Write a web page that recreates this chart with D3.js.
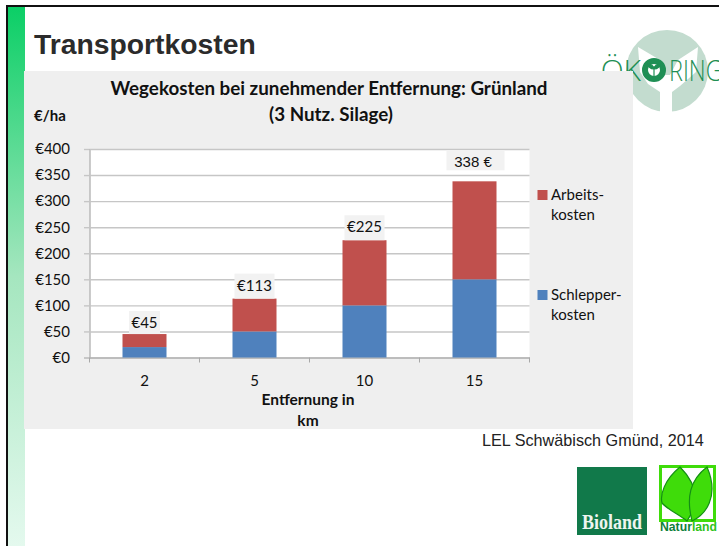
<!DOCTYPE html>
<html>
<head>
<meta charset="utf-8">
<script src="https://cdn.jsdelivr.net/npm/d3@7"></script>
<style>
body { margin: 0; background: #fff; }
svg { display: block; }
text { font-family: Lato, sans-serif; fill: #111; }
.sans { font-family: "Liberation Sans", Arial, sans-serif; }
</style>
</head>
<body>
<script>
var categories = ["2", "5", "10", "15"];
var schlepper = [20, 50, 100, 150];
var arbeit = [25, 63, 125, 188];
var totalLabels = ["€45", "€113", "€225", "338 €"];
var yTicks = [0, 50, 100, 150, 200, 250, 300, 350, 400];

var width = 719, height = 546;
var svg = d3.select("body").append("svg").attr("width", width).attr("height", height);

// slide frame and green side strip
var grad = svg.append("defs").append("linearGradient")
	.attr("id", "strip").attr("x1", 0).attr("y1", 0).attr("x2", 0).attr("y2", 1);
grad.append("stop").attr("offset", "0").attr("stop-color", "#0bcf66");
grad.append("stop").attr("offset", "0.5").attr("stop-color", "#a5e6bf");
grad.append("stop").attr("offset", "1").attr("stop-color", "#e4f9ee");

svg.append("rect").attr("x", 6).attr("y", 5).attr("width", 713).attr("height", 2).attr("fill", "#111");
svg.append("rect").attr("x", 6).attr("y", 5).attr("width", 2).attr("height", 541).attr("fill", "#111");
svg.append("rect").attr("x", 8).attr("y", 7).attr("width", 17).attr("height", 539).attr("fill", "url(#strip)");

svg.append("text").attr("class", "sans").attr("x", 34).attr("y", 54)
	.style("font-size", "28.3px").style("font-weight", "bold").style("fill", "#2b2b2b")
	.text("Transportkosten");

// okoring logo, sits behind the chart panel and runs off the slide like the original
var logo = svg.append("g");
var logoGreen = "#1f8f55";
logo.append("circle").attr("cx", 667).attr("cy", 71).attr("r", 41).attr("fill", "#c3dccf");
logo.append("path").attr("d", "M638 47 L660 60 L665 75 L670 75 L678 60 L698 47 L696 72 L680 86 L672 92 L672 113 L660 113 L660 92 L648 84 L640 72 Z")
	.attr("fill", "#fff");
logo.append("text").attr("x", 641).attr("y", 81).attr("text-anchor", "end")
	.style("font-family", "'Open Sans', sans-serif").style("font-weight", 300).style("font-size", "30px")
	.style("fill", logoGreen).text("ÖK");
logo.append("circle").attr("cx", 654).attr("cy", 70).attr("r", 9).attr("fill", "none")
	.attr("stroke", logoGreen).attr("stroke-width", 6);
logo.append("path").attr("d", "M654 76 L654 69 M654 69 C650 69 648 66 648 64 C651 64 654 66 654 69 C654 66 657 64 660 64 C660 66 658 69 654 69")
	.attr("fill", logoGreen).attr("stroke", logoGreen).attr("stroke-width", 1.2);
logo.append("text").attr("transform", "translate(669,81) scale(0.78,1)")
	.style("font-family", "'Open Sans', sans-serif").style("font-weight", 300).style("font-size", "30px")
	.style("fill", logoGreen).text("RING");

// chart panel
svg.append("rect").attr("x", 24).attr("y", 71).attr("width", 609).attr("height", 358).attr("fill", "#efefef");

var margin = {top: 149, left: 89.5};
var plotW = 440, plotH = 208.5;

var x = d3.scaleBand().domain(categories).range([0, plotW]).paddingInner(0.6).paddingOuter(0.3);
var band = d3.scaleBand().domain(categories).range([0, plotW]);
var y = d3.scaleLinear().domain([0, 400]).range([plotH, 0]);

var g = svg.append("g").attr("transform", "translate(" + margin.left + "," + margin.top + ")");
g.append("rect").attr("width", plotW).attr("height", plotH).attr("fill", "#fff");

var yAxis = d3.axisLeft(y).tickValues(yTicks).tickSize(5.5).tickPadding(14)
	.tickFormat(function(d) { return "€" + d; });
var gy = g.append("g").call(yAxis);
gy.selectAll(".tick line").clone().attr("x1", 0).attr("x2", plotW);
gy.selectAll("line").attr("stroke", "#c6c6c6").attr("stroke-width", 1.4);
gy.select(".domain").attr("stroke", "#a8a8a8").attr("stroke-width", 1.2);
gy.selectAll("text").style("font-size", "15px").style("font-family", "Lato, sans-serif").attr("fill", "#111");

var xAxis = d3.axisBottom(band).tickSize(0).tickPadding(18);
var gx = g.append("g").attr("transform", "translate(0," + plotH + ")").call(xAxis);
gx.select(".domain").attr("stroke", "#a8a8a8").attr("stroke-width", 1.2);
gx.selectAll("text").style("font-size", "15px").style("font-family", "Lato, sans-serif").attr("fill", "#111");
gx.selectAll(".sep").data(d3.range(categories.length + 1)).enter().append("line")
	.attr("class", "sep")
	.attr("x1", function(i) { return i * band.step(); })
	.attr("x2", function(i) { return i * band.step(); })
	.attr("y1", 0).attr("y2", 5).attr("stroke", "#a8a8a8");

var bw = x.bandwidth();
var offset = band.bandwidth() / 2 - bw / 2;

g.selectAll(".schlepper").data(schlepper).enter().append("rect")
	.attr("class", "schlepper")
	.attr("x", function(d, i) { return band(categories[i]) + offset; })
	.attr("y", function(d) { return y(d); })
	.attr("width", bw)
	.attr("height", function(d) { return plotH - y(d); })
	.attr("fill", "#4f81bd");

g.selectAll(".arbeit").data(arbeit).enter().append("rect")
	.attr("class", "arbeit")
	.attr("x", function(d, i) { return band(categories[i]) + offset; })
	.attr("y", function(d, i) { return y(d + schlepper[i]); })
	.attr("width", bw)
	.attr("height", function(d) { return plotH - y(d); })
	.attr("fill", "#c0504d");

// total labels with their pale boxes, the last one was moved by hand in the original
var totals = arbeit.map(function(d, i) { return d + schlepper[i]; });
var labels = g.selectAll(".total").data(totals).enter().append("g")
	.attr("class", "total")
	.attr("transform", function(d, i) {
		return "translate(" + (band(categories[i]) + band.bandwidth() / 2) + "," + y(d) + ")";
	});
labels.append("rect")
	.attr("x", function(d, i) { return i == 3 ? -28 : (i == 0 ? -15.5 : -20); })
	.attr("y", function(d, i) { return i == 3 ? -31 : (i == 0 ? -23 : -25); })
	.attr("width", function(d, i) { return i == 3 ? 58 : (i == 0 ? 31 : 40); })
	.attr("height", function(d, i) { return i == 3 ? 20 : (i == 0 ? 23 : 25); })
	.attr("fill", "#f2f2f2");
labels.append("text")
	.attr("text-anchor", "middle")
	.attr("x", function(d, i) { return i == 3 ? -1.5 : 0; })
	.attr("y", function(d, i) { return i == 3 ? -14 : (i == 0 ? -6 : -8); })
	.attr("class", function(d, i) { return i == 3 ? "sans" : null; })
	.style("font-size", "15px")
	.text(function(d, i) { return totalLabels[i]; });

// titles
svg.append("text").attr("x", 329).attr("y", 95).attr("text-anchor", "middle")
	.style("font-size", "18.8px").style("font-weight", "bold").text("Wegekosten bei zunehmender Entfernung: Grünland");
svg.append("text").attr("x", 331).attr("y", 121).attr("text-anchor", "middle")
	.style("font-size", "18.8px").style("font-weight", "bold").text("(3 Nutz. Silage)");
svg.append("text").attr("x", 34).attr("y", 121)
	.style("font-size", "15px").style("font-weight", "bold").text("€/ha");
svg.append("text").attr("x", 308).attr("y", 405).attr("text-anchor", "middle")
	.style("font-size", "15.5px").style("font-weight", "bold").text("Entfernung in");
svg.append("text").attr("x", 308).attr("y", 426).attr("text-anchor", "middle")
	.style("font-size", "15.5px").style("font-weight", "bold").text("km");

// legend
var legendNames = [["Arbeits-", "kosten"], ["Schlepper-", "kosten"]];
var legendColors = ["#c0504d", "#4f81bd"];
var legendY = [195, 295];
var legend = svg.selectAll(".leg").data(legendNames).enter().append("g")
	.attr("class", "leg")
	.attr("transform", function(d, i) { return "translate(537.5," + legendY[i] + ")"; });
legend.append("rect").attr("x", 0).attr("y", -5).attr("width", 10).attr("height", 10)
	.attr("fill", function(d, i) { return legendColors[i]; });
legend.append("text").attr("x", 13.5).attr("y", 5).style("font-size", "15px").text(function(d) { return d[0]; });
legend.append("text").attr("x", 13.5).attr("y", 25).style("font-size", "15px").text(function(d) { return d[1]; });

svg.append("text").attr("class", "sans").attr("x", 482).attr("y", 446)
	.style("font-size", "16.2px").style("fill", "#222").text("LEL Schwäbisch Gmünd, 2014");

// bioland logo
svg.append("rect").attr("x", 577).attr("y", 467).attr("width", 70).attr("height", 68).attr("fill", "#11794a");
svg.append("text").attr("x", 582).attr("y", 529)
	.style("font-family", "'Liberation Serif', serif").style("font-weight", "bold").style("font-size", "21px")
	.style("fill", "#eef5ef").attr("textLength", 60).attr("lengthAdjust", "spacingAndGlyphs").text("Bioland");

// naturland logo
svg.append("rect").attr("x", 660.5).attr("y", 466.5).attr("width", 54).attr("height", 54)
	.attr("fill", "#fff").attr("stroke", "#3fdc0a").attr("stroke-width", 3);
svg.append("path").attr("d", "M680 467 C664 480 660 495 662 503 C668 510 680 515 687 521 C698 505 700 487 680 467 Z")
	.attr("fill", "#3fdc0a").attr("stroke", "#148f14").attr("stroke-width", 1.2);
svg.append("path").attr("d", "M707 467 C690 480 686 497 692 521 C705 515 720 497 707 467 Z")
	.attr("fill", "#3fdc0a").attr("stroke", "#148f14").attr("stroke-width", 1.2);
var natur = svg.append("text").attr("x", 660).attr("y", 531)
	.style("font-family", "'Liberation Sans', sans-serif").style("font-weight", "bold").style("font-size", "12px")
	.attr("textLength", 57).attr("lengthAdjust", "spacingAndGlyphs");
natur.append("tspan").style("fill", "#0f7f3a").text("Natur");
natur.append("tspan").style("fill", "#2fc21a").text("land");
</script>
</body>
</html>
